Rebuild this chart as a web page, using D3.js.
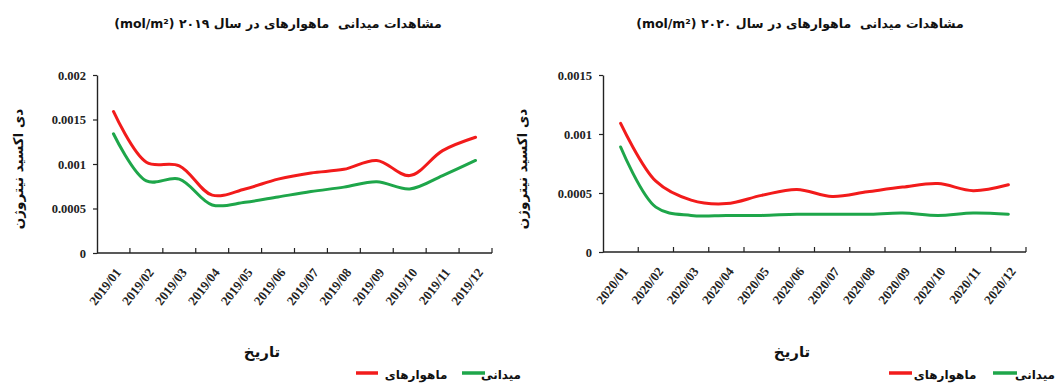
<!DOCTYPE html>
<html>
<head>
<meta charset="utf-8">
<script src="https://cdn.jsdelivr.net/npm/d3@7"></script>
<style>
  html, body { margin: 0; padding: 0; background: #fff; }
  svg { display: block; }
  .num { font-family: "Liberation Serif", "Times New Roman", serif; font-weight: bold; fill: #222; }
  .fa { font-family: "DejaVu Sans", sans-serif; font-weight: bold; fill: #111; white-space: pre; }
</style>
</head>
<body>
<script>
// Monthly NO2 column (mol/m²): satellite vs. ground observations
const months2019 = ["2019/01","2019/02","2019/03","2019/04","2019/05","2019/06","2019/07","2019/08","2019/09","2019/10","2019/11","2019/12"];
const months2020 = ["2020/01","2020/02","2020/03","2020/04","2020/05","2020/06","2020/07","2020/08","2020/09","2020/10","2020/11","2020/12"];

const satellite2019 = [0.00159, 0.00102, 0.00098, 0.00065, 0.00072, 0.00083, 0.00090, 0.00094, 0.00104, 0.00087, 0.00115, 0.00130];
const ground2019    = [0.00134, 0.00081, 0.00083, 0.00054, 0.00057, 0.00063, 0.00069, 0.00074, 0.00080, 0.00072, 0.00087, 0.00104];

const satellite2020 = [0.00109, 0.00060, 0.00044, 0.00041, 0.00048, 0.00053, 0.00047, 0.00051, 0.00055, 0.00058, 0.00052, 0.00057];
const ground2020    = [0.00089, 0.00038, 0.00031, 0.00031, 0.00031, 0.00032, 0.00032, 0.00032, 0.00033, 0.00031, 0.00033, 0.00032];

const yTicks2019 = [0, 0.0005, 0.001, 0.0015, 0.002];
const yTicks2020 = [0, 0.0005, 0.001, 0.0015];

const titles = ["مشاهدات میدانی  ماهوارهای در سال ۲۰۱۹ (mol/m²)", "مشاهدات میدانی  ماهوارهای در سال ۲۰۲۰ (mol/m²)"];
const yTitle = "دی اکسید نیتروژن";
const xTitle = "تاریخ";
const seriesNames = ["ماهوارهای", "میدانی"];
const seriesColors = ["#f21b1b", "#1ea64a"];

const W = 1057, H = 385;
const svg = d3.select("body").append("svg").attr("width", W).attr("height", H);

const panels = [
  { months: months2019, sat: satellite2019, gnd: ground2019, ticks: yTicks2019, title: titles[0],
    left: 97, right: 492, top: 75, bottom: 253, titleX: 278, yTitleX: 18, xTitleX: 262,
    legend: { redLine: [356, 378], redText: 416, greenLine: [462, 485], greenText: 501 } },
  { months: months2020, sat: satellite2020, gnd: ground2020, ticks: yTicks2020, title: titles[1],
    left: 603, right: 1026, top: 75, bottom: 252, titleX: 800, yTitleX: 522, xTitleX: 792,
    legend: { redLine: [889, 912], redText: 945, greenLine: [993, 1017], greenText: 1035 } }
];

const fmt = d => d === 0 ? "0" : String(+d.toFixed(4));

panels.forEach((p, i) => {
  const g = svg.append("g");

  const x = d3.scaleBand().domain(p.months).range([p.left, p.right]);
  const y = d3.scaleLinear().domain([0, d3.max(p.ticks)]).range([p.bottom, p.top]);

  // title
  g.append("text").attr("class", "fa")
    .attr("x", p.titleX).attr("y", 28)
    .attr("text-anchor", "middle").attr("direction", "rtl")
    .style("font-size", "12.5px")
    .text(p.title);

  // y axis
  const ya = g.append("g").attr("transform", `translate(${p.left},0)`)
    .call(d3.axisLeft(y).tickValues(p.ticks).tickFormat(fmt).tickSizeInner(4).tickSizeOuter(0).tickPadding(7));
  ya.select(".domain").attr("stroke", "#222").attr("stroke-width", 1.4);
  ya.selectAll(".tick line").attr("stroke", "#222").attr("stroke-width", 1.2);
  ya.selectAll(".tick text").attr("class", "num").style("font-size", "12.5px");

  // x axis: band boundaries get the ticks, pointing up into the plot
  const xa = g.append("g").attr("transform", `translate(0,${p.bottom})`);
  xa.append("line").attr("x1", p.left).attr("x2", p.right).attr("stroke", "#222").attr("stroke-width", 1.4);
  const bounds = p.months.map(m => x(m)).concat([x(p.months[p.months.length - 1]) + x.bandwidth()]).slice(1);
  xa.selectAll("line.tk").data(bounds).join("line").attr("class", "tk")
    .attr("x1", d => d).attr("x2", d => d).attr("y1", 0).attr("y2", -5)
    .attr("stroke", "#222").attr("stroke-width", 1.2);
  xa.selectAll("text.lbl").data(p.months).join("text").attr("class", "lbl num")
    .attr("transform", m => `translate(${x(m) + x.bandwidth() / 2 + 1},${14}) rotate(-52)`)
    .attr("text-anchor", "end").attr("dy", "0.7em")
    .style("font-size", "13px")
    .text(m => m);

  // axis titles
  g.append("text").attr("class", "fa")
    .attr("transform", `translate(${p.yTitleX},169) rotate(-90)`)
    .attr("text-anchor", "middle").attr("direction", "rtl").attr("dy", "0.35em")
    .style("font-size", "13.5px")
    .text(yTitle);
  g.append("text").attr("class", "fa")
    .attr("x", p.xTitleX).attr("y", 357)
    .attr("text-anchor", "middle").attr("direction", "rtl")
    .style("font-size", "15px")
    .text(xTitle);

  // lines
  const line = d3.line()
    .x((d, k) => x(p.months[k]) + x.bandwidth() / 2)
    .y(d => y(d))
    .curve(d3.curveCatmullRom.alpha(0.5));
  [p.sat, p.gnd].forEach((vals, k) => {
    g.append("path").datum(vals)
      .attr("fill", "none").attr("stroke", seriesColors[k])
      .attr("stroke-width", 3).attr("stroke-linecap", "round").attr("stroke-linejoin", "round")
      .attr("d", line);
  });

  // legend
  const L = p.legend, ly = 373;
  g.append("line").attr("x1", L.redLine[0]).attr("x2", L.redLine[1]).attr("y1", ly).attr("y2", ly)
    .attr("stroke", seriesColors[0]).attr("stroke-width", 3.5);
  g.append("text").attr("class", "fa").attr("x", L.redText).attr("y", 379)
    .attr("text-anchor", "middle").attr("direction", "rtl").style("font-size", "12px").text(seriesNames[0]);
  g.append("line").attr("x1", L.greenLine[0]).attr("x2", L.greenLine[1]).attr("y1", ly).attr("y2", ly)
    .attr("stroke", seriesColors[1]).attr("stroke-width", 3.5);
  g.append("text").attr("class", "fa").attr("x", L.greenText).attr("y", 379)
    .attr("text-anchor", "middle").attr("direction", "rtl").style("font-size", "12px").text(seriesNames[1]);
});
</script>
</body>
</html>
